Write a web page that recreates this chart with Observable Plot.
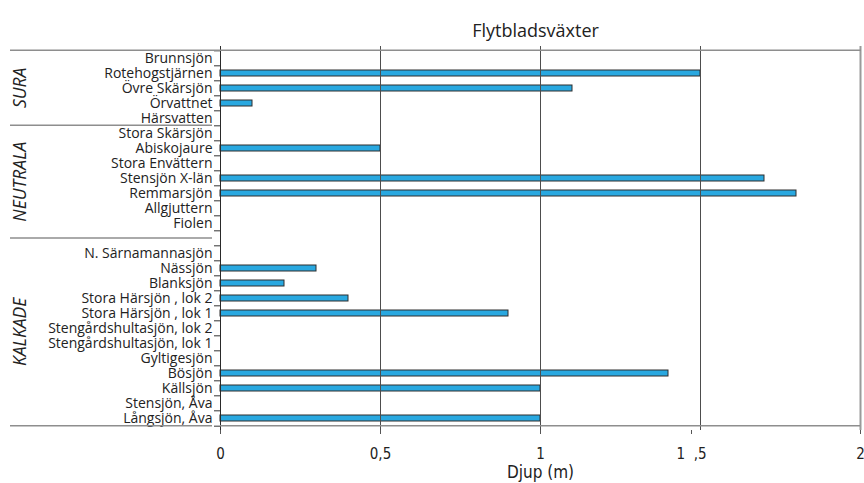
<!DOCTYPE html>
<html><head><meta charset="utf-8">
<script src="https://cdn.jsdelivr.net/npm/d3@7"></script>
<script src="https://cdn.jsdelivr.net/npm/@observablehq/plot@0.6"></script>
<style>body{margin:0;background:#fff} svg{display:block}</style>
</head><body><div id="chart"></div>
<script>
// ---- data ----
const title = "Flytbladsväxter";
const xLabel = "Djup (m)";
const groupNames = ["SURA", "NEUTRALA", "KALKADE"];
const suraLakes = ["Brunnsjön", "Rotehogstjärnen", "Övre Skärsjön", "Örvattnet", "Härsvatten"];
const suraDepths = [0, 1.5, 1.1, 0.1, 0];
const neutralaLakes = ["Stora Skärsjön", "Abiskojaure", "Stora Envättern", "Stensjön X-län", "Remmarsjön", "Allgjuttern", "Fiolen"];
const neutralaDepths = [0, 0.5, 0, 1.7, 1.8, 0, 0];
const kalkadeLakes = ["N. Särnamannasjön", "Nässjön", "Blanksjön", "Stora Härsjön , lok 2", "Stora Härsjön , lok 1", "Stengårdshultasjön, lok 2", "Stengårdshultasjön, lok 1", "Gyltigesjön", "Bösjön", "Källsjön", "Stensjön, Åva", "Långsjön, Åva"];
const kalkadeDepths = [0, 0.3, 0.2, 0.4, 0.9, 0, 0, 0, 1.4, 1.0, 0, 1.0];
const gapCategory = " ";
const xTicks = [0, 0.5, 1, 1.5, 2];
const xTickLabels = ["0", "0,5", "1", "1\u00a0\u00a0,5", "2"];

// ---- build ----
const domain = [...suraLakes, ...neutralaLakes, gapCategory, ...kalkadeLakes];
const rows = [
  ...suraLakes.map((l, i) => ({lake: l, depth: suraDepths[i]})),
  ...neutralaLakes.map((l, i) => ({lake: l, depth: neutralaDepths[i]})),
  ...kalkadeLakes.map((l, i) => ({lake: l, depth: kalkadeDepths[i]}))
].filter(d => d.depth > 0);

const W = 864, H = 483, mT = 46, mB = 53, mL = 220, mR = 4;
const step = (H - mT - mB) / domain.length;
const labelFont = "'Open Sans', sans-serif";
const narrowFont = "'Liberation Sans Narrow', 'DejaVu Sans Condensed', sans-serif";
const oddTick = 1.5; // label drawn slightly left of its tick, as in the original
const tickLabel = d => xTickLabels[xTicks.indexOf(d)];

function decorations(index, scales, values, dims) {
  const y = scales.y;
  const bw = y.bandwidth ? y.bandwidth() : 0;
  const mid = c => y(c) + bw / 2;
  const seps = [
    mid(suraLakes[0]) - step / 2,
    mid(neutralaLakes[0]) - step / 2,
    mid(gapCategory),
    mid(kalkadeLakes[kalkadeLakes.length - 1]) + step / 2
  ];
  const left = 10, sepEnd = dims.marginLeft - 8, right = dims.width - dims.marginRight;
  const g = d3.create("svg:g");
  g.append("line").attr("x1", left).attr("x2", right + 1).attr("y1", seps[0]).attr("y2", seps[0])
    .attr("stroke", "#8e8e8e").attr("stroke-width", 1.5);
  for (const s of seps.slice(1)) {
    g.append("line").attr("x1", left).attr("x2", sepEnd).attr("y1", s).attr("y2", s)
      .attr("stroke", "#8e8e8e").attr("stroke-width", 1.5);
  }
  g.append("line").attr("x1", dims.marginLeft).attr("x2", right).attr("y1", seps[3]).attr("y2", seps[3])
    .attr("stroke", "#8e8e8e").attr("stroke-width", 1.5);
  groupNames.forEach((name, i) => {
    const cy = (seps[i] + seps[i + 1]) / 2;
    g.append("text").attr("transform", `translate(20,${cy}) rotate(-90)`)
      .attr("text-anchor", "middle").attr("dy", "0.35em")
      .attr("font-family", labelFont).attr("font-size", 17.5).attr("font-style", "italic")
      .attr("fill", "#222").text(name);
  });
  return g.node();
}

const chart = Plot.plot({
  width: W, height: H,
  marginTop: mT, marginBottom: mB, marginLeft: mL, marginRight: mR,
  style: {fontFamily: labelFont, background: "white", color: "#222"},
  x: {domain: [0, 2]},
  y: {domain, paddingInner: 0.6, paddingOuter: 0.3, align: 0.5},
  marks: [
    Plot.barX(rows, {x: "depth", y: "lake", fill: "#29a8e0", stroke: "#2e2e2e", strokeWidth: 1}),
    Plot.ruleX(xTicks.slice(1, -1), {stroke: "#4d4d4d", strokeWidth: 1}),
    Plot.ruleX([xTicks[xTicks.length - 1]], {stroke: "#9a9a9a", strokeWidth: 2}),
    Plot.ruleX([xTicks[0]], {stroke: "#2a2a2a", strokeWidth: 1}),
    Plot.axisY({tickSize: 0, tickPadding: 8, fontSize: 14, fill: "#222", label: null}),
    Plot.axisY({tickFormat: () => "", tickSize: 6, dy: -step / 2, stroke: "#333", label: null}),
    Plot.axisY({ticks: [kalkadeLakes[kalkadeLakes.length - 1]], tickFormat: () => "", tickSize: 6, dy: step / 2, stroke: "#333", label: null}),
    Plot.axisX({ticks: xTicks.filter(d => d !== oddTick), tickFormat: tickLabel, tickSize: 4, tickPadding: 14,
      stroke: "#555", fill: "#222", fontSize: 15, fontFamily: narrowFont, label: null}),
    Plot.axisX({ticks: [oddTick], tickFormat: tickLabel, tickSize: 4, tickPadding: 14, dx: -9,
      stroke: "#555", fill: "#222", fontSize: 15, fontFamily: narrowFont, label: null}),
    Plot.text([xLabel], {frameAnchor: "bottom", dy: 47, fontSize: 17, fontFamily: narrowFont, fill: "#222"}),
    decorations,
    Plot.text([title], {frameAnchor: "top", dx: -5, dy: -22, fontSize: 18, fill: "#222"})
  ]
});
document.getElementById("chart").append(chart);
</script>
</body></html>
